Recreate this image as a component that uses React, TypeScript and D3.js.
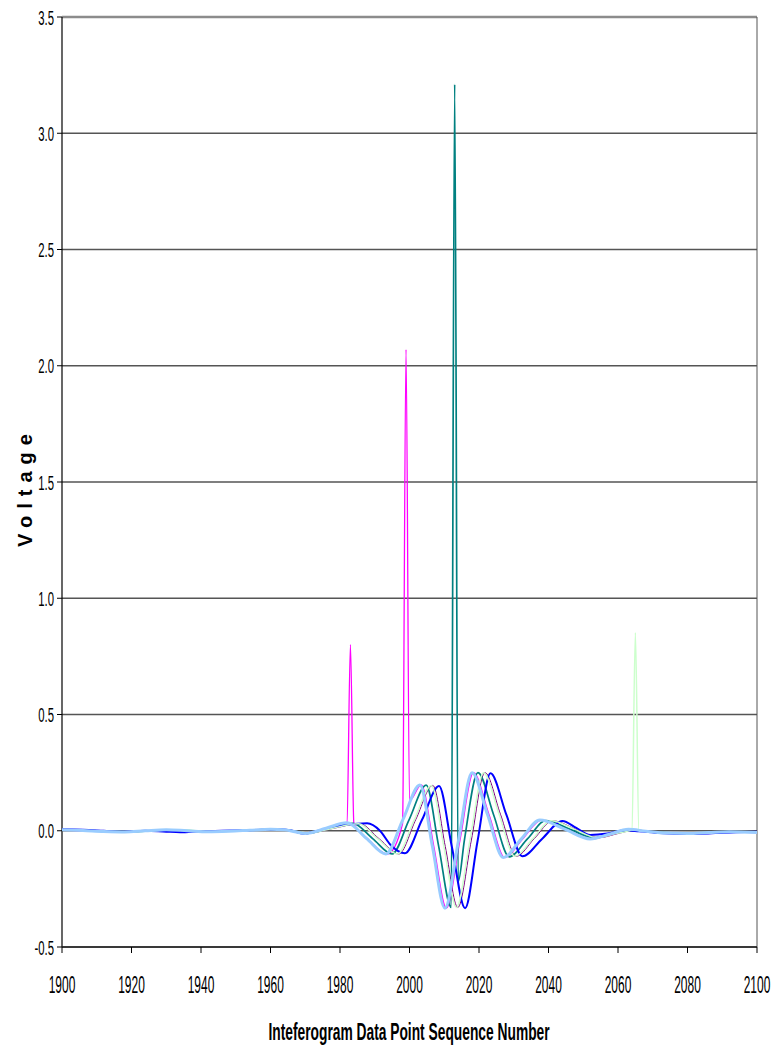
import React from "react";
import * as d3 from "d3";

type Pt = [number, number];

const xTicks = [1900, 1920, 1940, 1960, 1980, 2000, 2020, 2040, 2060, 2080, 2100];
const yTicks = [-0.5, 0, 0.5, 1.0, 1.5, 2.0, 2.5, 3.0, 3.5];

const seriesMagenta: Pt[] = [
  [1900, 0.003], [1908, 0.0], [1916, -0.004], [1924, -0.001], [1932, 0.003], [1940, -0.003],
  [1948, -0.002], [1956, 0.003], [1961, 0.006], [1965, 0.003], [1970, -0.012], [1976, 0.011],
  [1982, 0.034], [1983, 0.8], [1984, 0.03], [1988, -0.035], [1993.6, -0.1], [1998, 0.03],
  [1999, 2.07], [2000, 0.13], [2003.4, 0.197], [2007, -0.068], [2010.6, -0.333], [2014.5, -0.042],
  [2018.4, 0.25], [2022.9, 0.068], [2027.4, -0.115], [2032.6, -0.035], [2037.9, 0.046],
  [2045.2, 0.006], [2052.4, -0.035], [2058, -0.015], [2063.4, 0.006], [2070, -0.006],
  [2080, -0.012], [2090, -0.006], [2100, -0.008],
];

const seriesPurple: Pt[] = [
  [1900, 0.003], [1910, 0.0], [1920, -0.004], [1930, 0.002], [1940, -0.003], [1950, 0.0],
  [1960, 0.005], [1965, 0.002], [1971, -0.01], [1978, 0.01], [1985.7, 0.03], [1991.3, -0.035],
  [1996.9, -0.1], [2001.8, 0.048], [2006.7, 0.195], [2010.3, -0.068], [2013.9, -0.33],
  [2017.8, -0.04], [2021.7, 0.25], [2026.2, 0.07], [2030.7, -0.11], [2035.9, -0.034],
  [2041.2, 0.043], [2047.8, 0.007], [2054.5, -0.03], [2060, -0.012], [2065, 0.003],
  [2072, -0.008], [2082, -0.01], [2092, -0.006], [2100, -0.006],
];

const seriesTeal: Pt[] = [
  [1900, 0.005], [1907, 0.002], [1914, -0.003], [1921, -0.004], [1928, 0.002], [1934, 0.003],
  [1941, -0.003], [1948, -0.002], [1955, 0.003], [1961, 0.006], [1965, 0.003], [1970.5, -0.011],
  [1977, 0.011], [1983.7, 0.032], [1989.4, -0.034], [1995, -0.1], [1999.9, 0.048],
  [2004.8, 0.196], [2008.4, -0.067], [2012, -0.33], [2013, 3.21], [2014, -0.22],
  [2015.8, -0.04], [2019.7, 0.25], [2024.2, 0.069], [2028.7, -0.112], [2034, -0.034],
  [2039.2, 0.044], [2046.1, 0.007], [2053, -0.03], [2058.5, -0.013], [2064, 0.004],
  [2070, -0.006], [2080, -0.01], [2090, -0.006], [2100, -0.006],
];

const seriesBlue: Pt[] = [
  [1900, 0.006], [1906, 0.004], [1912, 0.0], [1918, -0.004], [1924, 0.0], [1930, -0.004],
  [1934, -0.006], [1940, -0.002], [1946, 0.0], [1952, 0.002], [1958, 0.004], [1962, 0.006],
  [1966, 0.001], [1969.5, -0.013], [1973, -0.002], [1977, 0.012], [1981, 0.024], [1985, 0.03],
  [1987.8, 0.032], [1991.5, 0.0], [1994.5, -0.06], [1998.7, -0.097], [2003.6, 0.047],
  [2008.5, 0.192], [2012.2, -0.07], [2016, -0.333], [2019.6, -0.043], [2023.3, 0.247],
  [2027.9, 0.068], [2032.5, -0.11], [2038.2, -0.034], [2044, 0.042], [2048, 0.012],
  [2052, -0.018], [2057, -0.012], [2062, 0.002], [2066, -0.002], [2072, -0.01], [2080, -0.014],
  [2088, -0.01], [2094, -0.006], [2100, -0.004],
];

const seriesLightGreen: Pt[] = [
  [1900, 0.004], [1907, 0.001], [1914, -0.003], [1921, -0.004], [1928, 0.001], [1935, 0.004],
  [1942, -0.003], [1949, -0.002], [1956, 0.003], [1961, 0.006], [1965, 0.002], [1971, -0.01],
  [1977.7, 0.01], [1985.3, 0.03], [1990.9, -0.035], [1996.5, -0.1], [2001.4, 0.048],
  [2006.3, 0.195], [2009.9, -0.068], [2013.5, -0.33], [2017.4, -0.04], [2021.3, 0.25],
  [2025.8, 0.07], [2030.3, -0.11], [2035.5, -0.034], [2040.8, 0.043], [2047.4, 0.007],
  [2054, -0.03], [2059, -0.013], [2064, 0.005], [2065, 0.852], [2066, 0.003], [2072, -0.008],
  [2080, -0.01], [2090, -0.006], [2100, -0.006],
];

const seriesLightBlue: Pt[] = [
  [1900, 0.004], [1906, 0.001], [1912, -0.003], [1918, -0.005], [1924, 0.0], [1930, 0.004],
  [1936, 0.0], [1942, -0.004], [1948, -0.002], [1954, 0.002], [1960, 0.006], [1964, 0.004],
  [1967, -0.004], [1970, -0.012], [1976, 0.011], [1982, 0.034], [1987.6, -0.033],
  [1993.2, -0.1], [1998.1, 0.048], [2003, 0.197], [2006.6, -0.068], [2010.2, -0.333],
  [2014.1, -0.042], [2018, 0.25], [2022.5, 0.068], [2027, -0.115], [2032.2, -0.035],
  [2037.5, 0.046], [2044.8, 0.006], [2052, -0.035], [2057.5, -0.015], [2063, 0.006],
  [2068, -0.002], [2074, -0.01], [2080, -0.012], [2086, -0.008], [2092, -0.004], [2100, -0.008],
];

const seriesList = [
  { data: seriesMagenta, color: "#FF00FF", width: 1.3 },
  { data: seriesPurple, color: "#800080", width: 1 },
  { data: seriesTeal, color: "#008080", width: 1.7 },
  { data: seriesBlue, color: "#0000FF", width: 2 },
  { data: seriesLightGreen, color: "#CCFFCC", width: 1.5 },
  { data: seriesLightBlue, color: "#99CCFF", width: 3 },
];

const W = 775;
const H = 1052;
const L = 62;
const R = 757;
const T = 17;
const B = 947;

export default function App() {
  const x = d3.scaleLinear().domain([1900, 2100]).range([L, R]);
  const y = d3.scaleLinear().domain([-0.5, 3.5]).range([B, T]);
  const line = d3
    .line<Pt>()
    .x((d) => x(d[0]))
    .y((d) => y(d[1]))
    .curve(d3.curveMonotoneX);

  const font = "Arial, 'Liberation Sans', sans-serif";

  return (
    <svg
      width={W}
      height={H}
      style={{ position: "absolute", left: 0, top: 0, background: "#fff" }}
      fontFamily={font}
    >
      <rect x={0} y={0} width={W} height={H} fill="#fff" />
      {yTicks.map((t) => (
        <line
          key={"g" + t}
          x1={L}
          x2={R}
          y1={y(t)}
          y2={y(t)}
          stroke={t === 3.5 ? "#8c8c8c" : "#555"}
          strokeWidth={t === 3.5 ? 2.5 : 1.4}
        />
      ))}
      <line x1={R} x2={R} y1={T} y2={B} stroke="#555" strokeWidth={1} />
      <line x1={L} x2={L} y1={T} y2={B} stroke="#000" strokeWidth={1.2} />
      <line x1={L} x2={R} y1={B} y2={B} stroke="#222" strokeWidth={1.6} />
      {yTicks.map((t) => (
        <g key={"yt" + t}>
          <line x1={L - 5} x2={L} y1={y(t)} y2={y(t)} stroke="#000" strokeWidth={1} />
          <text
            transform={`translate(${L - 8},${y(t) + 7.5}) scale(0.54,1)`}
            textAnchor="end"
            fontSize={21}
            fill="#000"
          >
            {t.toFixed(1)}
          </text>
        </g>
      ))}
      {xTicks.map((t) => (
        <g key={"xt" + t}>
          <line x1={x(t)} x2={x(t)} y1={B} y2={B + 6} stroke="#000" strokeWidth={1} />
          <text
            transform={`translate(${x(t)},${993}) scale(0.52,1)`}
            textAnchor="middle"
            fontSize={23}
            fill="#000"
          >
            {t}
          </text>
        </g>
      ))}
      {seriesList.map((s, i) => (
        <path
          key={"s" + i}
          d={line(s.data) || ""}
          fill="none"
          stroke={s.color}
          strokeWidth={s.width}
          strokeLinejoin="round"
        />
      ))}
      <text
        transform={`translate(409,1040) scale(0.575,1)`}
        textAnchor="middle"
        fontSize={24}
        fontWeight="bold"
        fill="#000"
      >
        Inteferogram Data Point Sequence Number
      </text>
      <text
        transform={`translate(32,487) rotate(-90)`}
        textAnchor="middle"
        fontSize={20}
        fontWeight="bold"
        letterSpacing={7}
        fill="#000"
      >
        Voltage
      </text>
    </svg>
  );
}
